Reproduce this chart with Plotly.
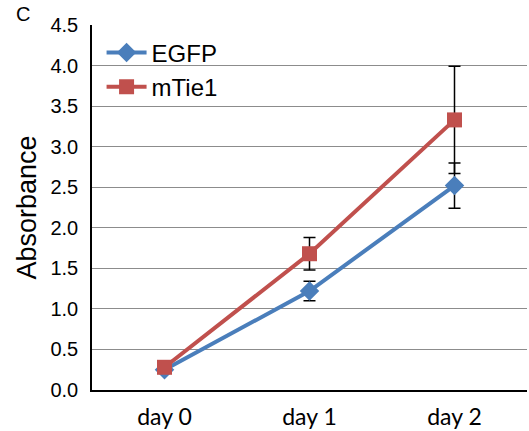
import plotly.graph_objects as go

categories = ["day 0", "day 1", "day 2"]
egfp = [0.25, 1.22, 2.52]
egfp_err = [0.02, 0.12, 0.28]
mtie1 = [0.28, 1.68, 3.33]
mtie1_err = [0.02, 0.20, 0.66]

blue = "#4A7EBB"
red = "#C0504D"

fig = go.Figure()
fig.add_trace(go.Scatter(
    x=categories, y=egfp, name="EGFP", mode="lines+markers",
    line=dict(color=blue, width=4),
    marker=dict(symbol="diamond", size=15, color=blue),
    error_y=dict(type="data", array=egfp_err, color="black", thickness=1.5, width=6),
))
fig.add_trace(go.Scatter(
    x=categories, y=mtie1, name="mTie1", mode="lines+markers",
    line=dict(color=red, width=4),
    marker=dict(symbol="square", size=15, color=red),
    error_y=dict(type="data", array=mtie1_err, color="black", thickness=1.5, width=6),
))

fig.update_layout(
    width=529, height=431,
    margin=dict(l=92, r=2, t=25, b=41),
    paper_bgcolor="white", plot_bgcolor="white",
    showlegend=True,
    legend=dict(x=0.022, y=0.985, xanchor="left", yanchor="top",
                font=dict(family="Liberation Sans, Arial, sans-serif", size=24, color="black"),
                bgcolor="rgba(0,0,0,0)", tracegroupgap=0, itemwidth=40),
    annotations=[dict(text="C", x=(23 - 92) / 435, y=(431 - 41 - 14) / 365,
                      xref="paper", yref="paper", showarrow=False,
                      xanchor="center", yanchor="middle",
                      font=dict(family="Liberation Sans, Arial, sans-serif", size=20, color="black"))],
)

fig.update_xaxes(
    type="category", range=[-0.5, 2.5],
    showline=True, linecolor="black", linewidth=1.5,
    showgrid=False, ticks="", zeroline=False,
    tickfont=dict(family="Lato, Carlito, sans-serif", size=23, color="black"),
    ticklabelstandoff=6,
)
fig.update_yaxes(
    range=[0, 4.5], dtick=0.5, tick0=0, tickformat=".1f",
    showline=True, linecolor="black", linewidth=1.5,
    showgrid=True, gridcolor="#8c8c8c", gridwidth=1, zeroline=False,
    ticks="",
    tickfont=dict(family="Liberation Sans, Arial, sans-serif", size=20, color="black"),
    ticklabelstandoff=8,
    title=dict(text="Absorbance", standoff=6,
               font=dict(family="Liberation Sans, Arial, sans-serif", size=27, color="black")),
)

fig.write_html("out.html")
